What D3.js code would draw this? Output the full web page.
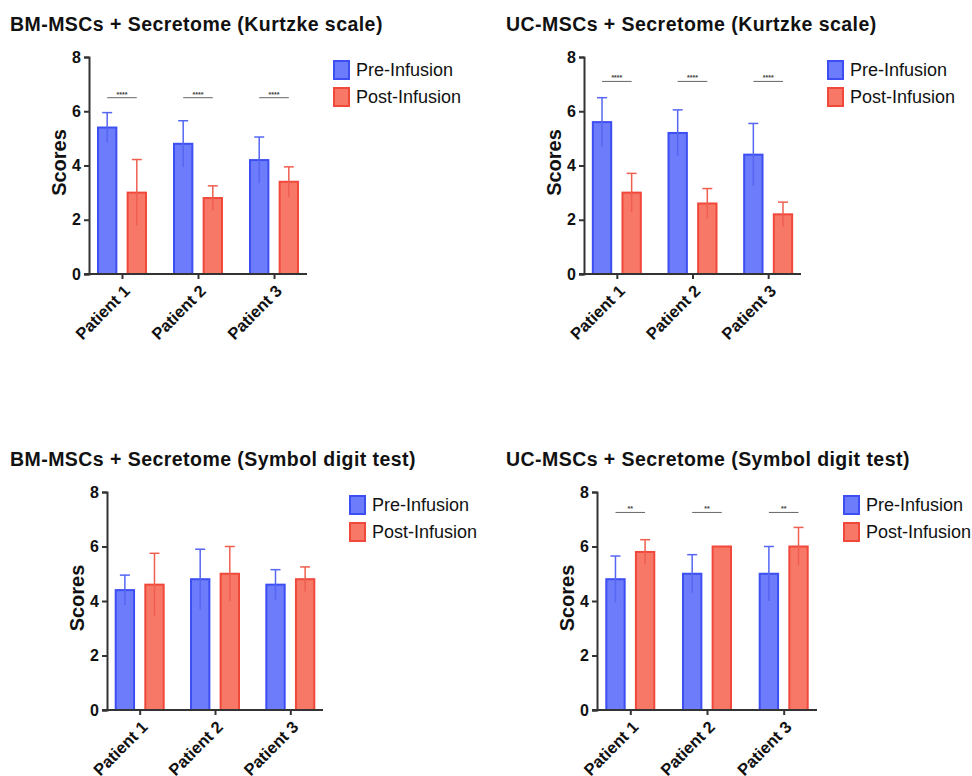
<!DOCTYPE html>
<html>
<head>
<meta charset="utf-8">
<script src="https://cdn.jsdelivr.net/npm/d3@7"></script>
<style>
body{margin:0;background:#fff;}
svg{display:block;font-family:"Liberation Sans",Arial,sans-serif;}
</style>
</head>
<body>
<svg id="chart" width="972" height="776"></svg>
<script>
// data
var patients=["Patient 1","Patient 2","Patient 3"];
var groups=["Pre-Infusion","Post-Infusion"];
var yTicks=[0,2,4,6,8];

var kurtzkeBM_pre=[5.4,4.8,4.2], kurtzkeBM_preSd=[0.55,0.85,0.85];
var kurtzkeBM_post=[3.0,2.8,3.4], kurtzkeBM_postSd=[1.22,0.45,0.55];
var kurtzkeUC_pre=[5.6,5.2,4.4], kurtzkeUC_preSd=[0.9,0.85,1.15];
var kurtzkeUC_post=[3.0,2.6,2.2], kurtzkeUC_postSd=[0.71,0.55,0.45];
var symbolBM_pre=[4.4,4.8,4.6], symbolBM_preSd=[0.55,1.1,0.55];
var symbolBM_post=[4.6,5.0,4.8], symbolBM_postSd=[1.15,1.0,0.45];
var symbolUC_pre=[4.8,5.0,5.0], symbolUC_preSd=[0.85,0.7,1.0];
var symbolUC_post=[5.8,6.0,6.0], symbolUC_postSd=[0.45,0,0.7];

var titles=["BM-MSCs + Secretome (Kurtzke scale)","UC-MSCs + Secretome (Kurtzke scale)",
            "BM-MSCs + Secretome (Symbol digit test)","UC-MSCs + Secretome (Symbol digit test)"];
var sigMarks=["****","****","","**"];
var sigLevel=[6.5,7.1,0,7.25];

var fills=["#6c7cfa","#f87868"], strokes=["#3d4ff2","#f0493c"], errCol=["#5566f2","#ee5f50"];

var svg=d3.select("#chart");

function panel(i,tx,ty,x0,x1,y0,y1,pre,preSd,post,postSd){
  var g=svg.append("g");
  g.append("text")
   .attr("x",tx).attr("y",ty)
   .style("font-size","19.5px").style("font-weight","bold").style("fill","#111")
   .style("letter-spacing","0.45px")
   .text(titles[i]);

  var y=d3.scaleLinear().domain([0,8]).range([y1,y0]);
  var x=d3.scalePoint().domain(patients).range([x0,x1]).padding(0.434);
  var xs=d3.scaleBand().domain(groups).range([-24,24]).paddingInner(0.38);

  var rows=patients.map(function(p,j){
    return [{p:p,k:0,v:pre[j],sd:preSd[j]},{p:p,k:1,v:post[j],sd:postSd[j]}];
  });
  var flat=[].concat.apply([],rows);

  g.selectAll(".bar").data(flat).enter().append("rect")
   .attr("x",function(d){return x(d.p)+xs(groups[d.k]);})
   .attr("y",function(d){return y(d.v);})
   .attr("width",xs.bandwidth())
   .attr("height",function(d){return y(0)-y(d.v);})
   .style("fill",function(d){return fills[d.k];})
   .style("stroke",function(d){return strokes[d.k];})
   .style("stroke-width",2);

  var eb=g.selectAll(".err").data(flat.filter(function(d){return d.sd>0;})).enter().append("g");
  eb.append("line")
   .attr("x1",function(d){return x(d.p)+xs(groups[d.k])+xs.bandwidth()/2;})
   .attr("x2",function(d){return x(d.p)+xs(groups[d.k])+xs.bandwidth()/2;})
   .attr("y1",function(d){return y(d.v-d.sd);})
   .attr("y2",function(d){return y(d.v+d.sd);})
   .style("stroke",function(d){return errCol[d.k];}).style("stroke-width",1.5);
  eb.append("line")
   .attr("x1",function(d){return x(d.p)+xs(groups[d.k])+xs.bandwidth()/2-5;})
   .attr("x2",function(d){return x(d.p)+xs(groups[d.k])+xs.bandwidth()/2+5;})
   .attr("y1",function(d){return y(d.v+d.sd);})
   .attr("y2",function(d){return y(d.v+d.sd);})
   .style("stroke",function(d){return errCol[d.k];}).style("stroke-width",1.5);

  if(sigMarks[i]){
    var sg=g.selectAll(".sig").data(patients).enter().append("g");
    sg.append("line")
     .attr("x1",function(p){return x(p)+xs(groups[0])+xs.bandwidth()/2;})
     .attr("x2",function(p){return x(p)+xs(groups[1])+xs.bandwidth()/2;})
     .attr("y1",y(sigLevel[i])).attr("y2",y(sigLevel[i]))
     .style("stroke","#666").style("stroke-width",1);
    sg.append("text")
     .attr("x",function(p){return x(p);})
     .attr("y",y(sigLevel[i])-1)
     .attr("text-anchor","middle")
     .style("font-size","7px").style("font-weight","bold").style("fill","#444")
     .text(sigMarks[i]);
  }

  var ya=g.append("g").attr("transform","translate("+x0+",0)")
   .call(d3.axisLeft(y).tickValues(yTicks).tickSize(5).tickPadding(3).tickFormat(d3.format("d")));
  ya.select(".domain").style("stroke","#333").style("stroke-width",2);
  ya.selectAll(".tick line").style("stroke","#333").style("stroke-width",2);
  ya.selectAll("text").style("font-size","16px").style("font-weight","bold").style("fill","#111");

  var xa=g.append("g").attr("transform","translate(0,"+y1+")")
   .call(d3.axisBottom(x).tickSize(5).tickFormat(""));
  xa.select(".domain").attr("d","M"+(x0-5)+",0H"+x1).style("stroke","#333").style("stroke-width",2);
  xa.selectAll(".tick line").style("stroke","#333").style("stroke-width",2);

  g.selectAll(".xl").data(patients).enter().append("text")
   .attr("transform",function(p){return "translate("+(x(p)+5)+","+(y1+14)+") rotate(-45)";})
   .attr("text-anchor","end").attr("dy","0.35em")
   .style("font-size","16.5px").style("font-weight","bold").style("fill","#111")
   .text(function(p){return p;});

  g.append("text")
   .attr("transform","translate("+(x0-30)+","+((y0+y1)/2-3)+") rotate(-90)")
   .attr("text-anchor","middle").attr("dy","0.35em")
   .style("font-size","20px").style("font-weight","bold").style("fill","#111")
   .text("Scores");

  var lg=g.selectAll(".lg").data(groups).enter().append("g")
   .attr("transform",function(d,k){return "translate("+(x1+27)+","+(y0+4+k*27)+")";});
  lg.append("rect").attr("width",15).attr("height",18)
   .style("fill",function(d,k){return fills[k];})
   .style("stroke",function(d,k){return strokes[k];}).style("stroke-width",2);
  lg.append("text").attr("x",22).attr("y",9).attr("dy","0.35em")
   .style("font-size","18px").style("fill","#111")
   .text(function(d){return d;});
}

panel(0,10,31,89,307,57,274,kurtzkeBM_pre,kurtzkeBM_preSd,kurtzkeBM_post,kurtzkeBM_postSd);
panel(1,506,31,584,801,57,274,kurtzkeUC_pre,kurtzkeUC_preSd,kurtzkeUC_post,kurtzkeUC_postSd);
panel(2,10,466,107,323,492,710,symbolBM_pre,symbolBM_preSd,symbolBM_post,symbolBM_postSd);
panel(3,506,466,597,817,492,710,symbolUC_pre,symbolUC_preSd,symbolUC_post,symbolUC_postSd);
</script>
</body>
</html>
